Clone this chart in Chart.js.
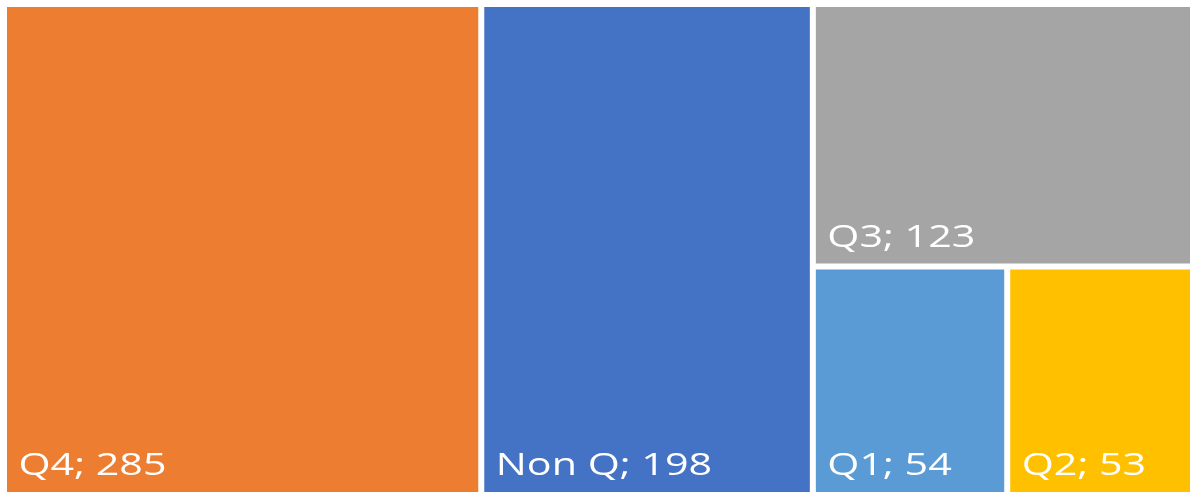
<!DOCTYPE html>
<html>
<head>
<meta charset="utf-8">
<script src="https://cdn.jsdelivr.net/npm/chart.js@4/dist/chart.umd.min.js"></script>
<style>
  html, body { margin: 0; padding: 0; background: #ffffff; overflow: hidden; width: 1190px; height: 495px; }
  #wrap { position: absolute; left: 0; top: 0; width: 1200px; height: 500px; }
</style>
</head>
<body>
<div id="wrap"><canvas id="c"></canvas></div>
<script>
// ---- data ----
const categories = ['Q4', 'Non Q', 'Q3', 'Q1', 'Q2'];
const values = [285, 198, 123, 54, 53];
const colors = ['#ED7D31', '#4472C4', '#A5A5A5', '#5B9BD5', '#FFC000'];

// squarified treemap layout in pixel-proportional space, returns fractions
function worst(row, side) {
  const s = row.reduce((a, b) => a + b, 0);
  const mx = Math.max(...row), mn = Math.min(...row);
  return Math.max(side * side * mx / (s * s), (s * s) / (side * side * mn));
}
function squarify(vals, W, H) {
  const total = vals.reduce((a, b) => a + b, 0);
  const areas = vals.map(v => v * W * H / total);
  let x = 0, y = 0, w = W, h = H, i = 0;
  const out = [];
  while (i < areas.length) {
    const side = Math.min(w, h);
    const row = [areas[i]];
    let j = i + 1;
    while (j < areas.length && worst(row.concat([areas[j]]), side) <= worst(row, side)) {
      row.push(areas[j]); j++;
    }
    const rs = row.reduce((a, b) => a + b, 0);
    if (w >= h) {
      const cw = rs / h; let cy = y;
      row.forEach(a => { const ch = a / cw; out.push({x0: x / W, y0: cy / H, x1: (x + cw) / W, y1: (cy + ch) / H}); cy += ch; });
      x += cw; w -= cw;
    } else {
      const rh = rs / w; let cx = x;
      row.forEach(a => { const cw = a / rh; out.push({x0: cx / W, y0: y / H, x1: (cx + cw) / W, y1: (y + rh) / H}); cx += cw; });
      y += rh; h -= rh;
    }
    i = j;
  }
  return out;
}

class TreemapController extends Chart.DatasetController {
  update(mode) {
    const meta = this._cachedMeta;
    this.updateElements(meta.data, 0, meta.data.length, mode);
  }
  updateElements(rects, start, count, mode) {
    const meta = this._cachedMeta;
    const xS = meta.xScale, yS = meta.yScale;
    const data = this.getDataset().data;
    const layout = squarify(data, xS.width, yS.height);
    for (let i = start; i < start + count; i++) {
      const r = layout[i];
      const left = xS.getPixelForValue(r.x0), right = xS.getPixelForValue(r.x1);
      const top = yS.getPixelForValue(r.y0), bottom = yS.getPixelForValue(r.y1);
      const props = {
        x: (left + right) / 2,
        y: top,
        base: bottom,
        width: right - left,
        height: bottom - top,
        horizontal: false,
        inflateAmount: 0,
        enableBorderRadius: false,
        borderSkipped: {top: false, bottom: false, left: false, right: false},
        options: this.resolveDataElementOptions(i, mode)
      };
      this.updateElement(rects[i], i, props, mode);
    }
  }
}
TreemapController.id = 'treemap';
TreemapController.defaults = { dataElementType: 'bar', datasetElementType: false };
TreemapController.overrides = {};
Chart.register(TreemapController);

const labelPlugin = {
  id: 'treemapLabels',
  afterDatasetsDraw(chart) {
    const ctx = chart.ctx;
    const meta = chart.getDatasetMeta(0);
    const ds = chart.data.datasets[0];
    ctx.save();
    ctx.font = '31px "Open Sans"';
    const sx = 148 / ctx.measureText('Q4; 285').width;
    ctx.fillStyle = '#ffffff';
    ctx.textBaseline = 'alphabetic';
    ctx.textAlign = 'left';
    meta.data.forEach((el, i) => {
      const left = el.x - el.width / 2;
      const bottom = Math.max(el.y, el.base);
      const txt = chart.data.labels[i] + '; ' + ds.data[i];
      ctx.save();
      ctx.translate(left + 14.5, bottom - 20);
      ctx.scale(sx, 1);
      ctx.fillText(txt, 0, 0);
      ctx.restore();
    });
    ctx.restore();
  }
};

new Chart(document.getElementById('c'), {
  type: 'treemap',
  data: {
    labels: categories,
    datasets: [{
      data: values,
      backgroundColor: colors,
      borderColor: '#ffffff',
      borderWidth: 3
    }]
  },
  options: {
    responsive: true,
    maintainAspectRatio: false,
    animation: false,
    events: [],
    layout: { padding: { left: 4, top: 4, right: 2, bottom: 5 } },
    scales: {
      x: { type: 'linear', min: 0, max: 1, display: false },
      y: { type: 'linear', min: 0, max: 1, reverse: true, display: false }
    },
    plugins: { legend: { display: false }, tooltip: { enabled: false } }
  },
  plugins: [labelPlugin]
});
</script>
</body>
</html>
